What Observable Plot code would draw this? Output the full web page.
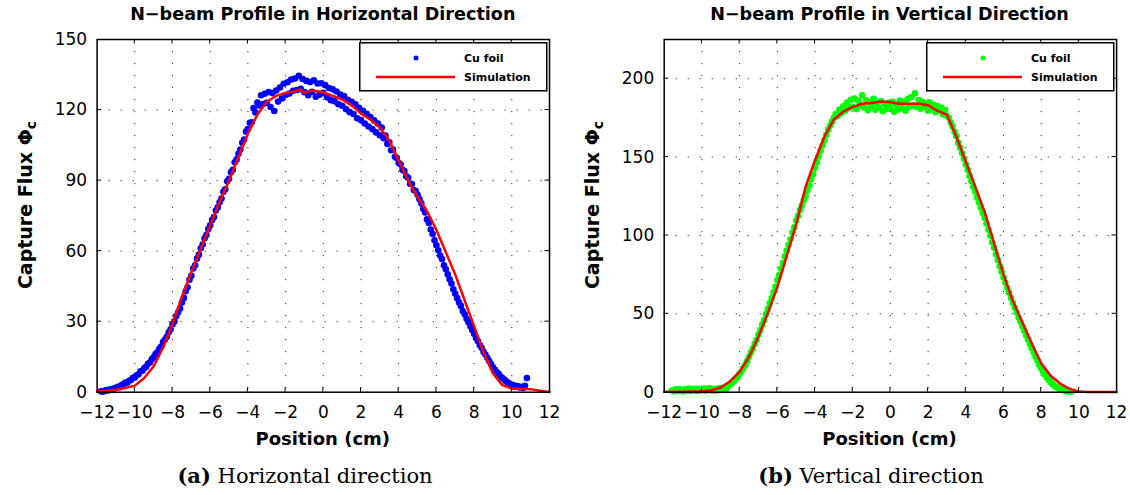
<!DOCTYPE html>
<html><head><meta charset="utf-8">
<script src="https://cdn.jsdelivr.net/npm/d3@7"></script>
<script src="https://cdn.jsdelivr.net/npm/@observablehq/plot@0.6"></script>
<style>
body{margin:0;background:#fff;}
#fig{position:relative;width:1130px;height:495px;overflow:hidden;font-family:"DejaVu Sans",sans-serif;color:#000;}
.abs{position:absolute;white-space:nowrap;line-height:1;}
.title{font-weight:bold;font-size:17.6px;transform:translate(-50%,-50%);}
.xlab{font-weight:bold;font-size:18px;transform:translate(-50%,-50%);}
.ylab{font-weight:bold;font-size:19px;transform:translate(-50%,-50%) rotate(-90deg);}
.ylab sub{font-size:14px;vertical-align:-4px;}
.cap{font-family:"DejaVu Serif",serif;font-size:21px;transform:translate(-50%,-50%);}
svg.plot{position:absolute;top:0;}
</style></head><body><div id="fig"></div><script>
// ---------- data ----------
const xTicks = [-12,-10,-8,-6,-4,-2,0,2,4,6,8,10,12];
const xGrid = [-10,-8,-6,-4,-2,0,2,4,6,8,10];
const yTicksH = [0,30,60,90,120,150];
const yGridH = [30,60,90,120];
const yTicksV = [0,50,100,150,200];
const yGridV = [50,100,150,200];

// Horizontal direction: Cu foil measurement (positions start -11.8 cm, step 0.1 cm)
const posStartH = -11.8, posStepH = 0.1;
const fluxH = [
0.4,0.2,0.6,0.9,0.7,1.2,1.0,1.6,1.9,2.3,
2.1,3.0,3.4,4.1,4.0,4.9,5.2,6.1,6.3,7.2,
7.6,8.9,9.1,10.2,10.8,12.1,12.6,14.0,14.8,16.2,
17.0,18.5,19.4,21.3,22.4,23.6,25.5,26.8,28.9,30.1,
32.4,34.0,35.6,38.2,40.1,42.9,44.6,47.8,49.5,52.6,
54.0,56.8,58.5,61.2,62.8,65.5,66.9,69.4,71.0,73.2,
74.5,77.3,78.6,80.8,82.4,85.2,86.3,89.7,90.8,93.5,
94.6,97.8,99.0,101.4,103.2,106.1,107.5,110.8,111.9,114.6,
114.8,120.8,119.0,123.2,121.9,126.3,122.5,126.9,123.1,127.7,
121.3,127.2,119.6,128.3,123.6,129.6,124.9,131.2,126.4,131.8,
127.0,133.0,128.2,133.4,128.5,134.6,129.0,133.2,127.6,132.4,
126.3,131.9,127.8,132.6,125.7,131.3,126.5,131.4,127.3,130.6,
125.4,129.4,124.2,128.8,123.7,127.9,122.5,126.6,121.8,126.0,
120.4,124.4,119.1,123.5,118.3,122.4,116.5,120.9,115.7,119.7,
114.3,118.4,113.0,117.0,111.9,115.6,110.5,114.3,109.3,112.6,
108.0,109.1,105.6,106.3,102.9,103.2,100.1,99.6,97.5,96.8,
94.6,94.1,91.8,91.2,88.7,88.5,86.0,85.6,84.0,82.1,
80.3,78.0,76.4,73.5,72.0,69.2,67.3,64.6,62.5,60.4,
58.1,56.6,54.0,52.3,50.1,48.0,46.2,43.8,41.9,40.0,
38.2,36.7,34.5,33.1,31.2,29.8,28.0,26.5,24.9,23.0,
21.8,20.1,18.9,17.2,16.0,14.6,13.3,12.0,10.6,9.5,
8.6,7.8,6.7,6.0,5.4,4.6,4.0,3.6,3.1,2.9,
2.4,2.6,2.0,2.3,1.8,2.7,6.0
];
// Horizontal direction: simulation
const simXH = [-12,-11.5,-11,-10.5,-10,-9.5,-9,-8.5,-8,-7.5,-7,-6.5,-6,-5.5,-5,-4.5,-4,-3.5,-3,-2.5,-2,-1.5,-1.2,-1,-0.7,-0.3,0,0.5,1,1.5,2,2.5,3,3.5,4,4.5,5,5.5,6,6.5,7,7.5,8,8.5,9,9.5,10,10.5,11,11.5,12];
const simH = [0.3,0.6,1.0,1.8,2.8,6,11,19,29,40.5,51,61,71,81,90,100,110,118,123.5,126,127.3,128,128.8,127.2,128.3,128,127.5,126,124.5,122,118.5,116,112.5,107,98.5,90,83,77,69,59.5,50,39,28,17,8,3,1.5,1.5,1.3,0.6,0.1];

// Vertical direction: Cu foil measurement (positions start -11.6 cm, step 0.1 cm)
const posStartV = -11.6, posStepV = 0.1;
const fluxV = [
1.1,0.5,1.8,0.6,2.0,0.8,0.4,1.9,0.9,2.3,
0.7,1.8,2.1,0.8,2.2,0.9,2.0,2.4,1.0,2.1,
2.5,1.1,2.2,0.9,2.3,1.2,2.6,1.5,3.0,2.2,
3.9,4.8,6.0,7.1,8.6,9.8,11.7,13.2,15.4,17.3,
19.8,22.6,25.3,27.8,30.9,33.5,36.8,39.6,43.1,46.0,
49.8,53.2,56.9,60.1,63.8,67.2,71.5,74.8,78.7,82.4,
86.5,90.3,94.1,97.6,101.8,105.2,109.5,112.6,116.2,119.1,
122.3,125.0,128.6,131.9,135.8,139.0,143.2,146.7,150.4,154.1,
157.5,160.8,164.2,167.5,170.1,172.6,175.0,177.4,176.2,180.3,
178.1,182.4,179.6,184.8,181.2,186.5,182.0,187.3,180.6,185.9,
183.1,189.4,181.7,186.2,179.8,185.0,182.6,187.1,180.2,184.4,
181.5,185.8,179.3,183.9,180.7,184.6,181.1,185.2,178.9,183.5,
180.4,186.0,181.3,184.9,179.6,186.8,182.2,188.1,183.0,190.6,
181.9,186.4,180.8,185.3,182.1,184.0,179.5,184.7,181.0,183.2,
178.6,182.5,179.9,181.4,177.2,180.0,176.3,175.1,172.0,169.4,
166.1,163.3,159.2,156.0,152.4,149.0,145.3,141.9,138.0,134.6,
130.9,127.8,124.1,121.0,117.6,114.3,111.2,107.5,103.6,99.8,
95.7,92.1,88.0,84.4,80.3,76.9,73.2,69.8,66.5,63.4,
60.1,57.0,53.9,50.8,47.6,44.9,42.1,39.2,36.4,33.6,
30.8,28.1,25.3,22.6,20.1,17.4,15.2,13.0,11.1,9.2,
7.8,6.4,5.2,4.1,3.3,2.6,2.0,1.5,1.1,0.8,
0.6,0.5,0.4
];
// Vertical direction: simulation
const simXV = [-12,-11.5,-11,-10.5,-10,-9.5,-9,-8.5,-8,-7.5,-7,-6.5,-6,-5.5,-5,-4.5,-4,-3.5,-3,-2.5,-2,-1.5,-1,-0.5,0,0.5,1,1.5,2,2.5,3,3.5,4,4.5,5,5.5,6,6.5,7,7.5,8,8.5,9,9.5,10,10.5,11,11.5,12];
const simV = [0.3,0.3,0.3,0.4,0.6,1.2,3,7,13,22.5,35.5,50.5,67,87,107,131,148,163,174,179,182,184,184.5,185.5,185,184,184,184,183,179.5,177,163,147,131,115,95,75,58,44.5,31,18.5,10.5,5.5,2.2,0.4,0.1,0.1,0.1,0.1];

const titles = ["N\u2212beam Profile in Horizontal Direction", "N\u2212beam Profile in Vertical Direction"];
const captionTags = ["(a)", "(b)"];
const captionTexts = [" Horizontal direction", " Vertical direction"];
const legendLabels = ["Cu foil", "Simulation"];

// ---------- drawing ----------
const fig = document.getElementById("fig");

function panel(o) {
  const pts = o.flux.map((v, i) => ({x: +(o.start + i * o.step).toFixed(2), y: v}));
  const sim = o.simX.map((x, i) => ({x, y: o.simY[i]}));
  const H = 450;
  const chart = Plot.plot({
    width: o.width, height: H,
    marginLeft: o.ml, marginRight: o.mr, marginTop: 39, marginBottom: H - 391.7,
    style: {fontFamily: "'DejaVu Sans', sans-serif", fontSize: "17px", background: "transparent", overflow: "visible", color: "#000"},
    x: {domain: [-12, 12]},
    y: {domain: o.yDomain},
    marks: [
      Plot.gridX(xGrid, {stroke: "#333", strokeOpacity: 1, strokeWidth: 1, strokeDasharray: "1.2,10.8"}),
      Plot.gridY(o.yGrid, {stroke: "#333", strokeOpacity: 1, strokeWidth: 1, strokeDasharray: "1.2,10.8"}),
      Plot.dot(pts, {x: "x", y: "y", r: o.r, fill: o.color}),
      Plot.line(sim, {x: "x", y: "y", stroke: "#ff0000", strokeWidth: 2.5}),
      Plot.axisX(xTicks, {anchor: "bottom", tickSize: 0, tickPadding: 14, label: null}),
      Plot.axisY(o.yTicks, {anchor: "left", tickSize: 0, tickPadding: 10, label: null}),
      Plot.frame({stroke: "#000", strokeWidth: 1.5})
    ]
  });
  chart.classList.add("plot");
  chart.style.left = o.left + "px";
  fig.appendChild(chart);

  // inward tick marks on all four sides, placed with the plot's own scales
  const sx = chart.scale("x"), sy = chart.scale("y");
  const X = d3.scaleLinear(sx.domain, sx.range), Y = d3.scaleLinear(sy.domain, sy.range);
  const [x0, x1] = sx.range, [y0, y1] = sy.range; // y0 bottom, y1 top
  const g = d3.select(chart).append("g").attr("stroke", "#000").attr("stroke-width", 1);
  const L = 4.5;
  xTicks.slice(1, -1).forEach(v => {
    const px = X(v);
    g.append("line").attr("x1", px).attr("x2", px).attr("y1", y0).attr("y2", y0 - L);
    g.append("line").attr("x1", px).attr("x2", px).attr("y1", y1).attr("y2", y1 + L);
  });
  o.yGrid.forEach(v => {
    const py = Y(v);
    if (py <= y1 + 1) return;
    g.append("line").attr("y1", py).attr("y2", py).attr("x1", x0).attr("x2", x0 + L);
    g.append("line").attr("y1", py).attr("y2", py).attr("x1", x1).attr("x2", x1 - L);
  });

  const gx0 = o.left + x0, gx1 = o.left + x1, cx = (gx0 + gx1) / 2;
  const add = (cls, html, x, y) => {
    const d = document.createElement("div");
    d.className = "abs " + cls; d.innerHTML = html;
    d.style.left = x + "px"; d.style.top = y + "px";
    fig.appendChild(d);
  };
  add("title", o.title, cx, 15);
  add("xlab", "Position (cm)", cx, 439);
  add("ylab", "Capture Flux \u03A6<sub>c</sub>", o.left + 27, 205);
  add("cap", "<b>" + o.tag + "</b>" + o.capText, o.capX, 476);

  // legend box
  const lw = 187, lh = 48;
  const lg = d3.select(fig).append("svg").attr("class", "plot")
    .style("left", (gx1 - 3 - lw) + "px").style("top", "42px")
    .attr("width", lw + 2).attr("height", lh + 2);
  lg.append("rect").attr("x", 0.75).attr("y", 0.75).attr("width", lw).attr("height", lh)
    .attr("fill", "#fff").attr("stroke", "#000").attr("stroke-width", 1.5);
  lg.append("circle").attr("cx", 57).attr("cy", 16).attr("r", 2.5).attr("fill", o.color);
  lg.append("line").attr("x1", 17).attr("x2", 96).attr("y1", 35).attr("y2", 35)
    .attr("stroke", "#ff0000").attr("stroke-width", 2.5);
  legendLabels.forEach((t, i) => {
    lg.append("text").attr("x", 105).attr("y", i === 0 ? 16 : 35).attr("dy", "0.36em")
      .attr("font-family", "DejaVu Sans").attr("font-weight", "bold").attr("font-size", 11).text(t);
  });
}

panel({flux: fluxH, start: posStartH, step: posStepH, simX: simXH, simY: simH, color: "#0000ff", r: 3.3,
  yDomain: [0, 150], yTicks: yTicksH, yGrid: yGridH, width: 565, ml: 96.6, mr: 16, left: 0,
  title: titles[0], tag: captionTags[0], capText: captionTexts[0], capX: 305});
panel({flux: fluxV, start: posStartV, step: posStepV, simX: simXV, simY: simV, color: "#00ff00", r: 3.3,
  yDomain: [0, 225], yTicks: yTicksV, yGrid: yGridV, width: 563, ml: 96.7, mr: 13.9, left: 566.6,
  title: titles[1], tag: captionTags[1], capText: captionTexts[1], capX: 871});
</script></body></html>
